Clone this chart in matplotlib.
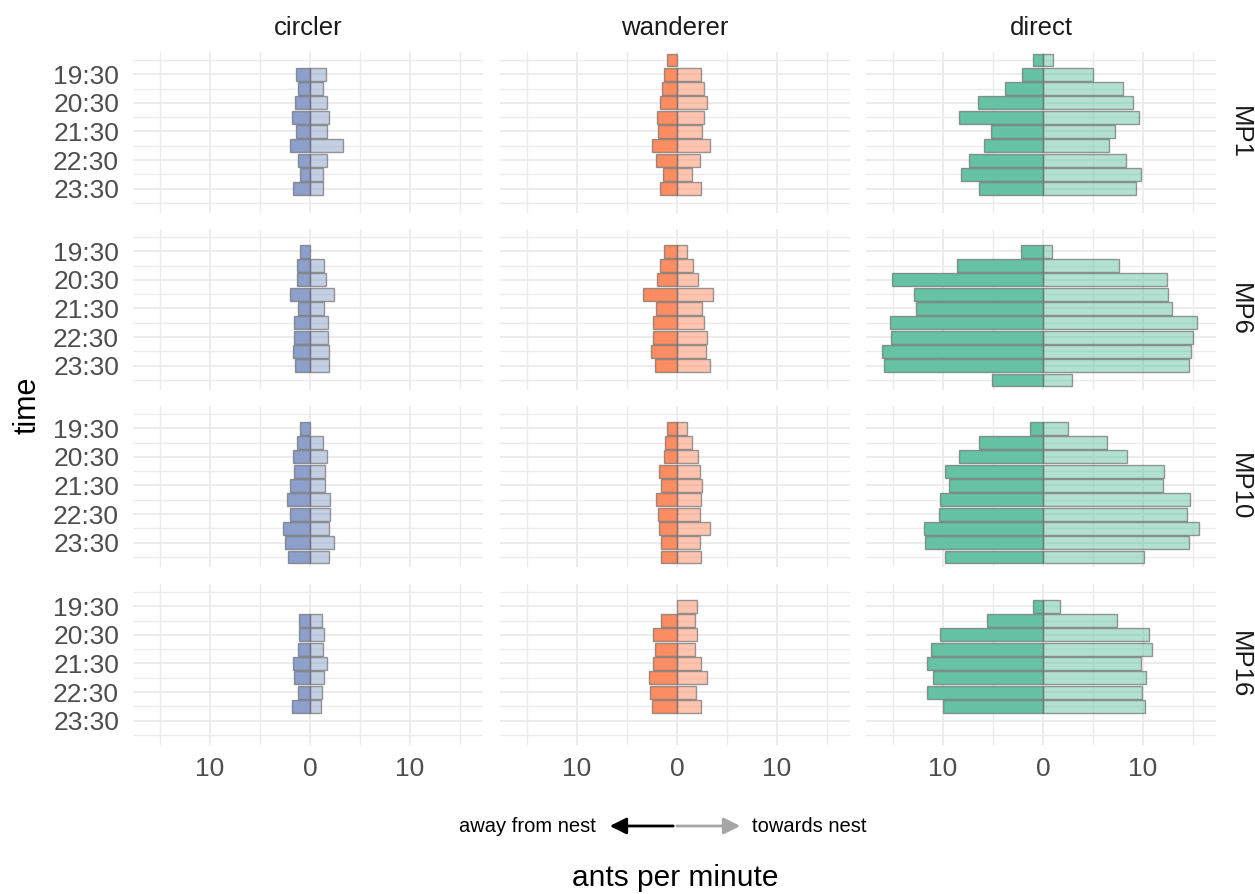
import numpy as np
import matplotlib
matplotlib.use("Agg")
import matplotlib.pyplot as plt
from matplotlib.patches import FancyArrowPatch

plt.rcParams["font.family"] = ["Liberation Sans", "DejaVu Sans"]

nan = np.nan
# half-hour time steps, 19:00 .. 24:00
times = [19.0, 19.5, 20.0, 20.5, 21.0, 21.5, 22.0, 22.5, 23.0, 23.5, 24.0]
tickLabels = ["19:30", "20:30", "21:30", "22:30", "23:30"]
behaviours = ["circler", "wanderer", "direct"]
sites = ["MP1", "MP6", "MP10", "MP16"]

# ants per minute moving away from nest (drawn to the left)
awayCircler = {
    "MP1":  [nan, 1.4, 1.2, 1.47, 1.83, 1.37, 1.97, 1.17, 0.97, 1.7, nan],
    "MP6":  [nan, 1.0, 1.3, 1.33, 2.0, 1.17, 1.63, 1.57, 1.73, 1.53, nan],
    "MP10": [nan, 0.97, 1.3, 1.7, 1.57, 1.97, 2.33, 1.97, 2.7, 2.5, 2.2],
    "MP16": [nan, nan, 1.07, 1.1, 1.23, 1.73, 1.57, 1.23, 1.77, nan, nan],
}
awayWanderer = {
    "MP1":  [1.0, 1.3, 1.47, 1.73, 1.97, 1.87, 2.47, 2.1, 1.4, 1.7, nan],
    "MP6":  [nan, 1.33, 1.7, 1.97, 3.37, 2.1, 2.37, 2.43, 2.6, 2.2, nan],
    "MP10": [nan, 1.0, 1.17, 1.33, 1.83, 1.57, 2.1, 1.87, 1.77, 1.63, 1.6],
    "MP16": [nan, nan, 1.6, 2.4, 2.23, 2.37, 2.8, 2.7, 2.5, nan, nan],
}
awayDirect = {
    "MP1":  [1.03, 2.1, 3.83, 6.5, 8.43, 5.2, 5.9, 7.43, 8.2, 6.4, nan],
    "MP6":  [nan, 2.2, 8.57, 15.07, 12.9, 12.67, 15.27, 15.17, 16.13, 15.87, 5.1],
    "MP10": [nan, 1.3, 6.37, 8.4, 9.8, 9.43, 10.33, 10.43, 11.9, 11.77, 9.83],
    "MP16": [nan, 1.03, 5.6, 10.33, 11.23, 11.63, 11.0, 11.63, 10.03, nan, nan],
}
# ants per minute moving towards nest (drawn to the right)
towardsCircler = {
    "MP1":  [nan, 1.6, 1.27, 1.7, 1.87, 1.7, 3.33, 1.67, 1.27, 1.33, nan],
    "MP6":  [nan, nan, 1.43, 1.6, 2.4, 1.37, 1.77, 1.77, 1.93, 1.93, nan],
    "MP10": [nan, nan, 1.27, 1.67, 1.5, 1.5, 2.03, 2.0, 1.9, 2.4, 1.93],
    "MP16": [nan, nan, 1.2, 1.37, 1.27, 1.7, 1.37, 1.2, 1.13, nan, nan],
}
towardsWanderer = {
    "MP1":  [nan, 2.4, 2.67, 3.03, 2.67, 2.47, 3.3, 2.3, 1.5, 2.43, nan],
    "MP6":  [nan, 1.0, 1.63, 2.13, 3.6, 2.5, 2.67, 3.03, 2.87, 3.27, nan],
    "MP10": [nan, 1.0, 1.5, 2.07, 2.27, 2.5, 2.4, 2.3, 3.3, 2.3, 2.37],
    "MP16": [nan, 2.03, 1.77, 2.03, 1.77, 2.4, 2.97, 1.87, 2.43, nan, nan],
}
towardsDirect = {
    "MP1":  [0.97, 5.0, 8.03, 9.03, 9.6, 7.23, 6.63, 8.33, 9.77, 9.3, nan],
    "MP6":  [nan, 0.9, 7.6, 12.4, 12.47, 12.9, 15.43, 15.03, 14.83, 14.63, 2.93],
    "MP10": [nan, 2.47, 6.37, 8.4, 12.13, 12.03, 14.67, 14.4, 15.63, 14.63, 10.1],
    "MP16": [nan, 1.67, 7.43, 10.57, 10.9, 9.77, 10.33, 9.93, 10.17, nan, nan],
}

away = {"circler": awayCircler, "wanderer": awayWanderer, "direct": awayDirect}
towards = {"circler": towardsCircler, "wanderer": towardsWanderer, "direct": towardsDirect}
colours = {"circler": "#8DA0CB", "wanderer": "#FC8D62", "direct": "#66C2A5"}

W, H = 1255, 894
fig = plt.figure(figsize=(W / 100, H / 100), dpi=100)

colLeft = [133, 500, 866]
rowTop = [52, 229, 406, 584]
pw, ph = 350, 161

gridCol = "#EBEBEB"
textCol = "#4D4D4D"
edge = (0.4, 0.4, 0.4, 0.65)

for r, site in enumerate(sites):
    for c, beh in enumerate(behaviours):
        ax = fig.add_axes([colLeft[c] / W, 1 - (rowTop[r] + ph) / H, pw / W, ph / H])
        t = np.array(times)
        a = np.array(away[beh][site], dtype=float)
        b = np.array(towards[beh][site], dtype=float)
        ma, mb = ~np.isnan(a), ~np.isnan(b)
        ax.barh(t[ma], -a[ma], height=0.45, color=colours[beh],
                edgecolor=edge, linewidth=1.0, zorder=3)
        lightBars = ax.barh(t[mb], b[mb], height=0.45, color=colours[beh],
                            edgecolor=edge, linewidth=1.0, zorder=3)
        for p in lightBars:
            p.set_facecolor(matplotlib.colors.to_rgba(colours[beh], 0.5))
        ax.set_xlim(-17.7, 17.3)
        ax.set_ylim(24.35, 18.72)
        ax.set_xticks([-10, 0, 10])
        ax.set_xticks([-15, -5, 5, 15], minor=True)
        ax.set_yticks([19.5, 20.5, 21.5, 22.5, 23.5])
        ax.set_yticks([19.0, 20.0, 21.0, 22.0, 23.0, 24.0], minor=True)
        ax.grid(True, which="major", color=gridCol, linewidth=1.3, zorder=0)
        ax.grid(True, which="minor", color=gridCol, linewidth=1.0, zorder=0)
        ax.set_axisbelow(True)
        for s in ax.spines.values():
            s.set_visible(False)
        ax.tick_params(which="both", length=0, labelsize=19, labelcolor=textCol)
        ax.tick_params(axis="x", pad=9)
        ax.tick_params(axis="y", pad=10)
        if c == 0:
            ax.set_yticklabels(tickLabels)
        else:
            ax.set_yticklabels([])
        if r == len(sites) - 1:
            ax.set_xticklabels(["10", "0", "10"])
        else:
            ax.set_xticklabels([])
        if r == 0:
            ax.set_title(beh, fontsize=18.5, color="#1A1A1A", pad=12)
    # facet strip on the right
    fig.text(1240 / W, 1 - (rowTop[r] + ph / 2) / H, site, rotation=-90,
             ha="center", va="center", fontsize=18.5, color="#1A1A1A")

# axis titles
fig.text(28 / W, 1 - 405 / H, "time", rotation=90, ha="center", va="center",
         fontsize=22, color="black")
fig.text(675 / W, 1 - 878 / H, "ants per minute", ha="center", va="center",
         fontsize=21.5, color="black")

# direction legend
yA = 1 - 826 / H
fig.add_artist(FancyArrowPatch((676 / W, yA), (607 / W, yA), transform=fig.transFigure,
                               arrowstyle="-|>,head_length=10,head_width=5",
                               color="black", linewidth=2, mutation_scale=1))
fig.add_artist(FancyArrowPatch((674 / W, yA), (743 / W, yA), transform=fig.transFigure,
                               arrowstyle="-|>,head_length=10,head_width=5",
                               color="#A6A6A6", linewidth=2, mutation_scale=1))
fig.text(596 / W, yA, "away from nest", ha="right", va="center", fontsize=14.5, color="black")
fig.text(752 / W, yA, "towards nest", ha="left", va="center", fontsize=14.5, color="black")

fig.savefig("out.png", dpi=100, facecolor="white")
